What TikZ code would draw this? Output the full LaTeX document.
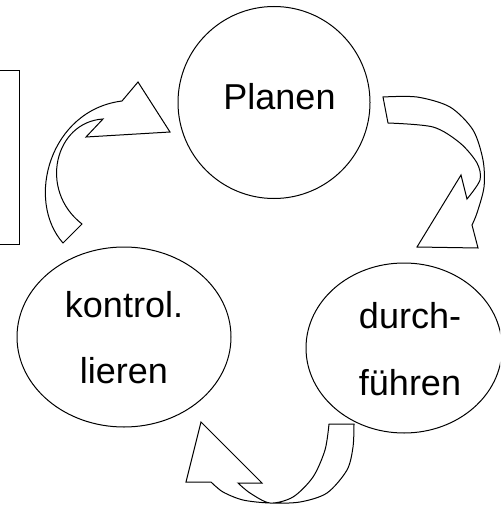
\documentclass[tikz,border=0pt]{standalone}
\usepackage{fontspec}
\setmainfont{Liberation Sans}
\usetikzlibrary{shapes.geometric}
\begin{document}
\begin{tikzpicture}[x=1pt,y=-1pt, line width=1pt,
  bubble/.style={draw, ellipse, inner sep=0pt},
  lbl/.style={font=\fontsize{36}{40}\selectfont, anchor=base, inner sep=0pt},
  blockarrow/.style={draw, line join=miter}]
\useasboundingbox (0,0) rectangle (500,505);
\clip (0,0) rectangle (500,505);
% side box
\draw (-10,71) rectangle (19,244);
% bubbles
\node[bubble, minimum width=192pt, minimum height=192pt] (plan) at (274,102.5) {};
\node[bubble, minimum width=214pt, minimum height=180pt] (kontr) at (124,337) {};
\node[bubble, minimum width=196pt, minimum height=170pt] (durch) at (404,348) {};
% labels
\node[lbl] (tplan) at (279.5,110) {Planen};
\node[lbl] (tk1) at (124,317) {kontrol.};
\node[lbl] (tk2) at (124,383) {lieren};
\node[lbl] (td1) at (410,328) {durch-};
\node[lbl] (td2) at (410,395) {führen};
% arrow kontrol -> Planen
\draw[blockarrow] (63,243) .. controls (25,200) and (50,110) .. (122,101)
  -- (138,82) -- (170,132) -- (86,137) -- (103,119)
  .. controls (55,122) and (38,190) .. (82,224) -- cycle;
% arrow Planen -> durchfuehren
\draw[blockarrow] plot[smooth] coordinates {(383,97) (417,97) (450,107) (473,130) (483,160) (484,187) (477,213) (472,225)}
  -- (478,248) -- (417,247) -- (461,175) -- (467,199)
  -- plot[smooth] coordinates {(467,199) (480,180) (477,163) (460,143) (433,127) (388,123)} -- cycle;
% arrow durchfuehren -> kontrol
\draw[blockarrow] plot[smooth] coordinates {(354,424) (353,447) (347,470) (327,493) (300,502) (270,503) (243,500) (223,492) (211,482)}
  -- (186,482) -- (201,422) -- (262,483) -- (238,483)
  -- plot[smooth] coordinates {(238,483) (250,493) (270,503) (293,497) (313,477) (325,450) (329,424)} -- cycle;
\end{tikzpicture}
\end{document}
